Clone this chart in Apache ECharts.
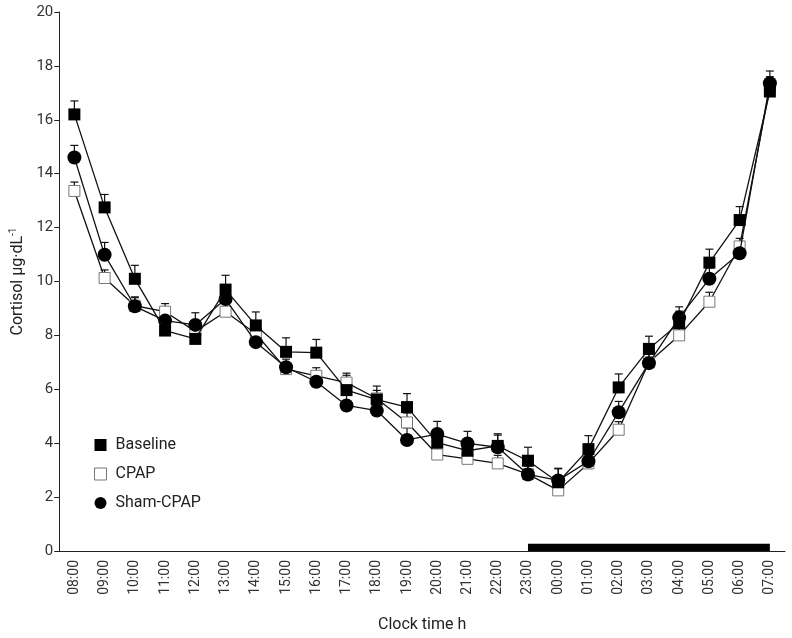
<!DOCTYPE html>
<html>
<head>
<meta charset="utf-8">
<script src="https://cdn.jsdelivr.net/npm/echarts@6/dist/echarts.min.js"></script>
<style>
  html, body { margin: 0; padding: 0; background: #fff; }
  #chart { width: 792px; height: 638px; }
</style>
</head>
<body>
<div id="chart"></div>
<script>
const hours = ['08:00', '09:00', '10:00', '11:00', '12:00', '13:00', '14:00', '15:00',
  '16:00', '17:00', '18:00', '19:00', '20:00', '21:00', '22:00', '23:00',
  '00:00', '01:00', '02:00', '03:00', '04:00', '05:00', '06:00', '07:00']

const baseline = [16.2, 12.75, 10.1, 8.18, 7.87, 9.7, 8.37, 7.39, 7.36, 5.97, 5.62, 5.34,
  4.02, 3.72, 3.9, 3.35, 2.55, 3.78, 6.07, 7.5, 8.45, 10.7, 12.28, 17.05]
const baselineErr = [0.5, 0.48, 0.5, 0.35, 0.4, 0.53, 0.5, 0.52, 0.49, 0.55, 0.5, 0.5,
  0.45, 0.4, 0.45, 0.5, 0.5, 0.5, 0.5, 0.47, 0.45, 0.5, 0.5, 0.45]

const cpap = [13.36, 10.13, 9.1, 8.88, 8.15, 8.88, 8.06, 6.75, 6.5, 6.25, 5.66, 4.77,
  3.58, 3.42, 3.25, 2.85, 2.25, 3.25, 4.5, 7.0, 8.0, 9.25, 11.3, 17.2]
const cpapErr = [0.33, 0.3, 0.3, 0.3, 0.3, 0.35, 0.3, 0.25, 0.3, 0.35, 0.3, 0.35,
  0.3, 0.3, 0.3, 0.3, 0.3, 0.3, 0.3, 0.3, 0.3, 0.35, 0.3, 0.4]

const sham = [14.6, 10.99, 9.08, 8.55, 8.39, 9.35, 7.75, 6.82, 6.28, 5.4, 5.21, 4.12,
  4.34, 3.99, 3.85, 2.84, 2.62, 3.33, 5.15, 6.97, 8.66, 10.1, 11.05, 17.36]
const shamErr = [0.45, 0.46, 0.35, 0.35, 0.45, 0.45, 0.35, 0.3, 0.35, 0.4, 0.4, 0.45,
  0.47, 0.45, 0.45, 0.4, 0.45, 0.4, 0.4, 0.4, 0.4, 0.4, 0.4, 0.45]

// sleep period bar along the x axis
const sleepStart = '23:00'
const sleepEnd = '07:00'
const sleepBarHeight = 0.27

const FONT = 'Roboto, "DejaVu Sans", sans-serif'

function errData(values, errs) {
  return values.map((v, i) => [i, v, v + errs[i]])
}

function renderErrorBar(params, api) {
  const base = api.coord([api.value(0), api.value(1)])
  const top = api.coord([api.value(0), api.value(2)])
  const half = 4
  const style = { stroke: '#111', lineWidth: 1.2 }
  return {
    type: 'group',
    children: [
      { type: 'line', shape: { x1: base[0], y1: base[1], x2: top[0], y2: top[1] }, style },
      { type: 'line', shape: { x1: top[0] - half, y1: top[1], x2: top[0] + half, y2: top[1] }, style }
    ]
  }
}

function errorSeries(values, errs) {
  return {
    type: 'custom',
    renderItem: renderErrorBar,
    encode: { x: 0, y: [1, 2] },
    data: errData(values, errs),
    z: 1,
    silent: true
  }
}

const chart = echarts.init(document.getElementById('chart'), null, { renderer: 'canvas' })

chart.setOption({
  animation: false,
  textStyle: { fontFamily: FONT },
  grid: { left: 58, right: 7, top: 12, bottom: 81, containLabel: false },
  legend: {
    orient: 'vertical',
    left: 89,
    top: 432,
    itemGap: 13,
    itemWidth: 12,
    itemHeight: 12,
    textStyle: { fontSize: 16, color: '#222', fontFamily: FONT, padding: [0, 0, 0, 4] },
    data: [
      { name: 'Baseline', icon: 'rect', itemStyle: { color: '#000', borderWidth: 0 } },
      { name: 'CPAP', icon: 'rect', itemStyle: { color: '#fff', borderColor: '#777', borderWidth: 1 } },
      { name: 'Sham-CPAP', icon: 'circle', itemStyle: { color: '#000', borderWidth: 0 } }
    ]
  },
  xAxis: {
    type: 'category',
    data: hours,
    boundaryGap: true,
    name: 'Clock time h',
    nameLocation: 'middle',
    nameGap: 66,
    nameTextStyle: { fontSize: 16, color: '#222', fontFamily: FONT },
    axisLine: { lineStyle: { color: '#222', width: 1 } },
    axisTick: { alignWithLabel: true, length: 4, lineStyle: { color: '#222' } },
    axisLabel: { rotate: 90, fontSize: 14, color: '#333', margin: 9, interval: 0, fontFamily: FONT },
    splitLine: { show: false }
  },
  yAxis: {
    type: 'value',
    min: 0,
    max: 20,
    interval: 2,
    name: 'Cortisol µg·dL{sup|-1}',
    nameLocation: 'middle',
    nameGap: 30,
    nameTextStyle: {
      fontSize: 16,
      color: '#222',
      fontFamily: FONT,
      rich: { sup: { fontSize: 10, color: '#222', padding: [0, 0, 9, 0], fontFamily: FONT } }
    },
    axisLine: { show: true, lineStyle: { color: '#222', width: 1 } },
    axisTick: { show: true, length: 5, lineStyle: { color: '#222' } },
    axisLabel: { fontSize: 15, color: '#333', margin: 6, fontFamily: FONT },
    splitLine: { show: false }
  },
  series: [
    errorSeries(baseline, baselineErr),
    errorSeries(cpap, cpapErr),
    errorSeries(sham, shamErr),
    {
      name: 'CPAP',
      type: 'line',
      data: cpap,
      symbol: 'rect',
      symbolSize: 11,
      showAllSymbol: true,
      lineStyle: { color: '#111', width: 1.3 },
      itemStyle: { color: '#fff', borderColor: '#777', borderWidth: 1 },
      z: 2,
      markArea: {
        silent: true,
        itemStyle: { color: '#000' },
        data: [[{ xAxis: sleepStart, yAxis: 0 }, { xAxis: sleepEnd, yAxis: sleepBarHeight }]]
      }
    },
    {
      name: 'Sham-CPAP',
      type: 'line',
      data: sham,
      symbol: 'circle',
      symbolSize: 14,
      showAllSymbol: true,
      lineStyle: { color: '#111', width: 1.3 },
      itemStyle: { color: '#000', borderWidth: 0 },
      z: 3
    },
    {
      name: 'Baseline',
      type: 'line',
      data: baseline,
      symbol: 'rect',
      symbolSize: 12,
      showAllSymbol: true,
      lineStyle: { color: '#111', width: 1.3 },
      itemStyle: { color: '#000', borderWidth: 0 },
      z: 4
    }
  ]
})
</script>
</body>
</html>
